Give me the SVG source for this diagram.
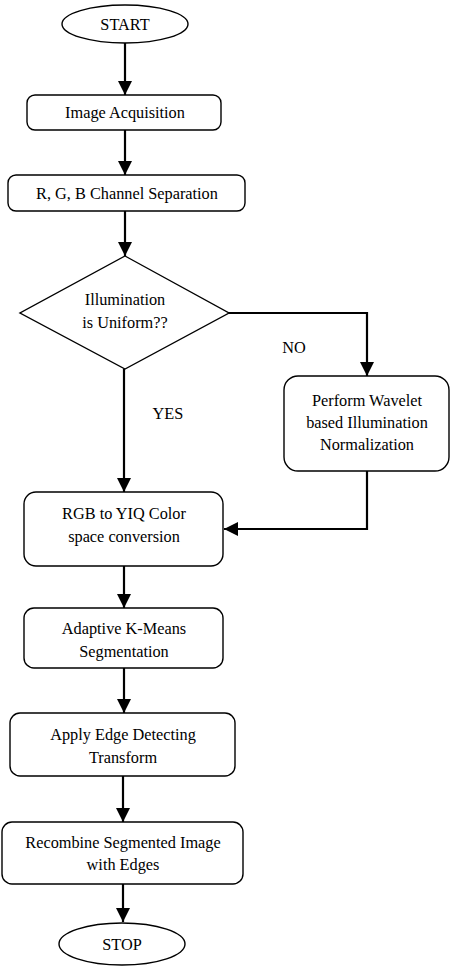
<svg xmlns="http://www.w3.org/2000/svg" width="451" height="973" viewBox="0 0 451 973">
<style>
.s{fill:#fff;stroke:#000;stroke-width:1.4}
.c{fill:none;stroke:#000;stroke-width:2.2}
text{font-family:"Liberation Serif","Times New Roman",serif;font-size:16.3px;fill:#000;text-anchor:middle}
</style>
<defs>
<marker id="a" markerUnits="userSpaceOnUse" markerWidth="14" markerHeight="14" viewBox="0 0 14 14" refX="14" refY="7" orient="auto">
<path d="M0,0 L14,7 L0,14 Z" fill="#000"/>
</marker>
</defs>
<rect width="451" height="973" fill="#fff"/>
<g id="connectors">
<path class="c" d="M125,43 V95" marker-end="url(#a)"/>
<path class="c" d="M125,130 V175" marker-end="url(#a)"/>
<path class="c" d="M125,211 V256" marker-end="url(#a)"/>
<path class="c" d="M229,313 H367 V376" marker-end="url(#a)"/>
<path class="c" d="M124,369 V492" marker-end="url(#a)"/>
<path class="c" d="M367,471 V529 H224" marker-end="url(#a)"/>
<path class="c" d="M124,566 V608" marker-end="url(#a)"/>
<path class="c" d="M124,668 V713" marker-end="url(#a)"/>
<path class="c" d="M123,776 V822" marker-end="url(#a)"/>
<path class="c" d="M123,884 V922" marker-end="url(#a)"/>
<text x="294" y="353">NO</text>
<text x="168" y="419">YES</text>
</g>
<g id="start"><ellipse class="s" cx="125" cy="24" rx="63" ry="19"/><text x="125" y="30">START</text></g>
<g id="acq"><rect class="s" x="27" y="95" width="194" height="35" rx="8"/><text x="125" y="118">Image Acquisition</text></g>
<g id="rgb"><rect class="s" x="8" y="175" width="237" height="36" rx="8"/><text x="127" y="199">R, G, B Channel Separation</text></g>
<g id="decision"><polygon class="s" points="125,256 229,313 125,369 20,313"/><text x="125" y="305">Illumination</text><text x="125" y="328">is Uniform??</text></g>
<g id="wavelet"><rect class="s" x="284" y="376" width="165" height="95" rx="14"/><text x="367" y="406">Perform Wavelet</text><text x="367" y="428">based Illumination</text><text x="367" y="450">Normalization</text></g>
<g id="yiq"><rect class="s" x="24" y="492" width="199" height="74" rx="12"/><text x="124" y="519">RGB to YIQ Color</text><text x="124" y="542">space conversion</text></g>
<g id="kmeans"><rect class="s" x="24" y="608" width="199" height="60" rx="10"/><text x="124" y="634">Adaptive K-Means</text><text x="124" y="657">Segmentation</text></g>
<g id="edge"><rect class="s" x="10" y="713" width="225" height="63" rx="10"/><text x="123" y="740">Apply Edge Detecting</text><text x="123" y="763">Transform</text></g>
<g id="recombine"><rect class="s" x="2" y="822" width="241" height="62" rx="10"/><text x="123" y="848">Recombine Segmented Image</text><text x="123" y="870">with Edges</text></g>
<g id="stop"><ellipse class="s" cx="122" cy="944" rx="63" ry="21"/><text x="122" y="950">STOP</text></g>
</svg>
